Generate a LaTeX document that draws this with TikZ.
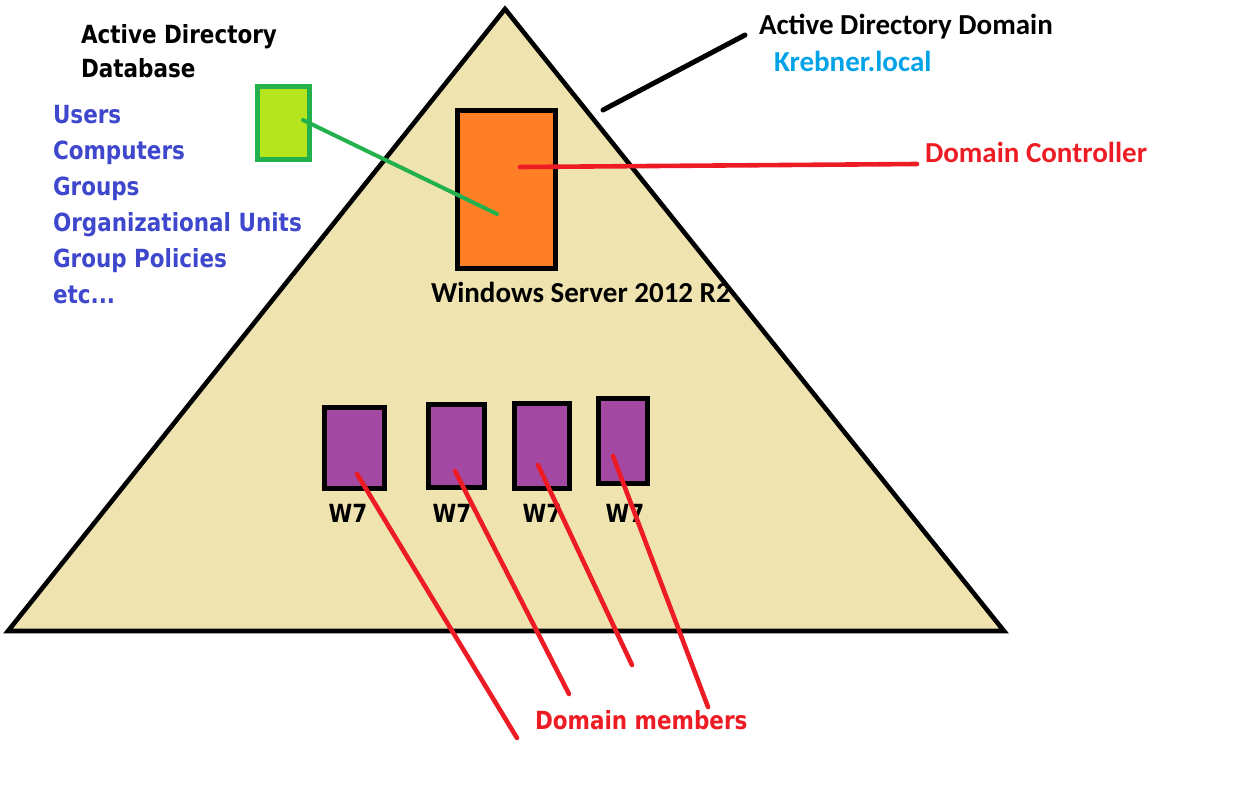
\documentclass[tikz,border=0pt]{standalone}
\usepackage{fontspec}
\setmainfont{Carlito}
\newfontfamily\tahoma[FakeStretch=0.86]{DejaVu Sans}
\usetikzlibrary{calc, positioning}
\definecolor{adtan}{HTML}{EFE4B0}
\definecolor{adorange}{HTML}{FF7F27}
\definecolor{adpurple}{HTML}{A349A4}
\definecolor{adlime}{HTML}{B5E61D}
\definecolor{adgreen}{HTML}{22B14C}
\definecolor{adred}{HTML}{ED1C24}
\definecolor{adblue}{HTML}{3F48CC}
\definecolor{adcyan}{HTML}{00A2E8}

\begin{document}
\begin{tikzpicture}[x=0.5pt, y=-0.5pt, line width=2pt, line cap=round,
		calib/.style={font=\bfseries\fontsize{14.5}{17}\selectfont, inner sep=0, anchor=base west},
		tah/.style={font=\tahoma\bfseries\fontsize{12.5}{15}\selectfont, inner sep=0, anchor=base west},
		listitem/.style={tah, text=adblue},
		pcbox/.style={draw=black, fill=adpurple, inner sep=0, line width=2.5pt, line cap=butt},
		pclabel/.style={tah, anchor=base},
		redline/.style={draw=adred, line width=2.3pt}]
	\useasboundingbox (0,0) rectangle (1258,788);

	% domain
	\draw[fill=adtan, line width=2.3pt, line cap=butt] (505,9) -- (1004,631) -- (8,631) -- cycle;

	% database and its contents
	\node[draw=adgreen, fill=adlime, inner sep=0, line width=2.5pt, minimum width=26pt,
		minimum height=36.5pt] (db) at (283.5,123) {};
	\node[tah] (adtitle) at (79,43) {Active Directory};
	\node[tah] (dbtitle) at ($(adtitle.base west)+(0,34)$) {Database};
	\node[listitem] (users) at (51,123) {Users};
	\node[listitem] (computers) at ($(users.base west)+(0,36)$) {Computers};
	\node[listitem] (groups) at ($(computers.base west)+(0,36)$) {Groups};
	\node[listitem] (ous) at ($(groups.base west)+(0,36)$) {Organizational Units};
	\node[listitem] (gpos) at ($(ous.base west)+(0,36)$) {Group Policies};
	\node[listitem] (etc) at ($(gpos.base west)+(0,36)$) {etc...};

	% domain controller
	\node[draw=black, fill=adorange, inner sep=0, line width=2.5pt, minimum width=49pt,
		minimum height=79pt] (dc) at (506,189) {};
	\node[calib] (winsrv) at (429,302) {Windows Server 2012 R2};
	\node[calib, text=adred] (dclabel) at (923,162) {Domain Controller};

	\node[calib] (domlabel) at (757,34) {Active Directory Domain};
	\node[calib, text=adcyan] (krebner) at (772,71) {Krebner.local};

	% members
	\node[pcbox, minimum width=30pt, minimum height=40.5pt] (pc1) at (354,447.5) {};
	\node[pcbox, minimum width=28pt, minimum height=41.5pt] (pc2) at (456,445.5) {};
	\node[pcbox, minimum width=27.5pt, minimum height=42.5pt] (pc3) at (541.5,445.5) {};
	\node[pcbox, minimum width=24.5pt, minimum height=42.5pt] (pc4) at (622.5,440.5) {};
	\node[pclabel] (w1) at (348,522) {W7};
	\node[pclabel] (w2) at (452,522) {W7};
	\node[pclabel] (w3) at (542,522) {W7};
	\node[pclabel] (w4) at (625,522) {W7};
	\node[tah, text=adred] (memlabel) at (533,729) {Domain members};

	\coordinate (m1) at (517,738);
	\coordinate (m2) at (569,694);
	\coordinate (m3) at (632,665);
	\coordinate (m4) at (708,707);
	\coordinate (edge) at (603,110);
	\coordinate (domend) at (745,35);
	\coordinate (dcend) at (917,164);

	% connectors
	\draw[draw=adgreen] ($(db.center)+(19.5,-3)$) -- ($(dc.center)+(-9,25)$);
	\draw[redline] ($(dc.center)+(14,-22)$) -- (dcend);
	\draw[line width=2.5pt] (edge) -- (domend);
	\draw[redline] ($(pc1.center)+(3,26.5)$) -- (m1);
	\draw[redline] ($(pc2.center)+(-1,25.5)$) -- (m2);
	\draw[redline] ($(pc3.center)+(-3.5,19.5)$) -- (m3);
	\draw[redline] ($(pc4.center)+(-9.5,15.5)$) -- (m4);
\end{tikzpicture}
\end{document}
